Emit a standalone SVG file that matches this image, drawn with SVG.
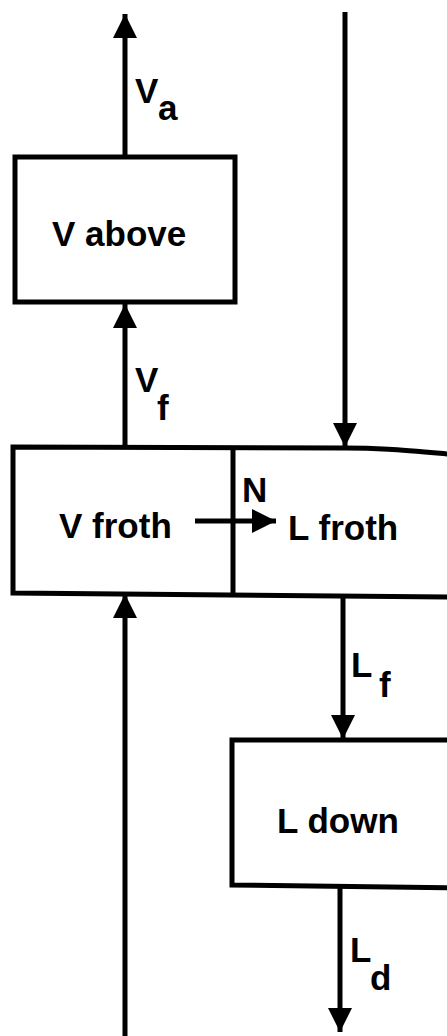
<svg xmlns="http://www.w3.org/2000/svg" width="447" height="1036" viewBox="0 0 447 1036">
<style>
.box{fill:none;stroke:#000;stroke-width:5;stroke-linejoin:miter}
.ln{fill:none;stroke:#000;stroke-width:5}
.t{font-family:"Liberation Sans",Arial,sans-serif;font-weight:bold;font-size:35px;fill:#000}
</style>
<defs>
<marker id="ah" viewBox="0 0 10 10" refX="10" refY="5" markerWidth="4.8" markerHeight="5" orient="auto" markerUnits="strokeWidth">
<path d="M0,0 L10,5 L0,10 Z" fill="#000"/>
</marker>
</defs>
<rect width="447" height="1036" fill="#fff"/>
<g id="v-above">
<rect class="box" x="15" y="157" width="220" height="145"/>
<text class="t" x="52" y="246">V above</text>
</g>
<g id="froth">
<path class="box" d="M460,455 C400,450 380,448 345,448 L13,447 L13,593 L460,597"/>
<line class="ln" x1="233" y1="447" x2="233" y2="593"/>
<text class="t" x="59" y="538">V froth</text>
<text class="t" x="288" y="540">L froth</text>
</g>
<g id="l-down">
<path class="box" d="M460,740 L232,740 L232,885 L460,888"/>
<text class="t" x="277" y="833">L down</text>
</g>
<g id="connectors">
<line class="ln" x1="125" y1="157" x2="125" y2="14" marker-end="url(#ah)"/>
<line class="ln" x1="125" y1="447" x2="125" y2="304" marker-end="url(#ah)"/>
<line class="ln" x1="345" y1="12" x2="345" y2="447" marker-end="url(#ah)"/>
<line class="ln" x1="195" y1="521" x2="276" y2="521" marker-end="url(#ah)"/>
<line class="ln" x1="125" y1="1036" x2="125" y2="594" marker-end="url(#ah)"/>
<line class="ln" x1="343" y1="596" x2="343" y2="739" marker-end="url(#ah)"/>
<line class="ln" x1="340" y1="886" x2="340" y2="1032" marker-end="url(#ah)"/>
<text class="t" x="135" y="103">V</text>
<text class="t" x="158" y="120">a</text>
<text class="t" x="135" y="392">V</text>
<text class="t" x="157" y="420">f</text>
<text class="t" x="242" y="502">N</text>
<text class="t" x="351" y="677">L</text>
<text class="t" x="379" y="697">f</text>
<text class="t" x="350" y="962">L</text>
<text class="t" x="370" y="990">d</text>
</g>
</svg>
